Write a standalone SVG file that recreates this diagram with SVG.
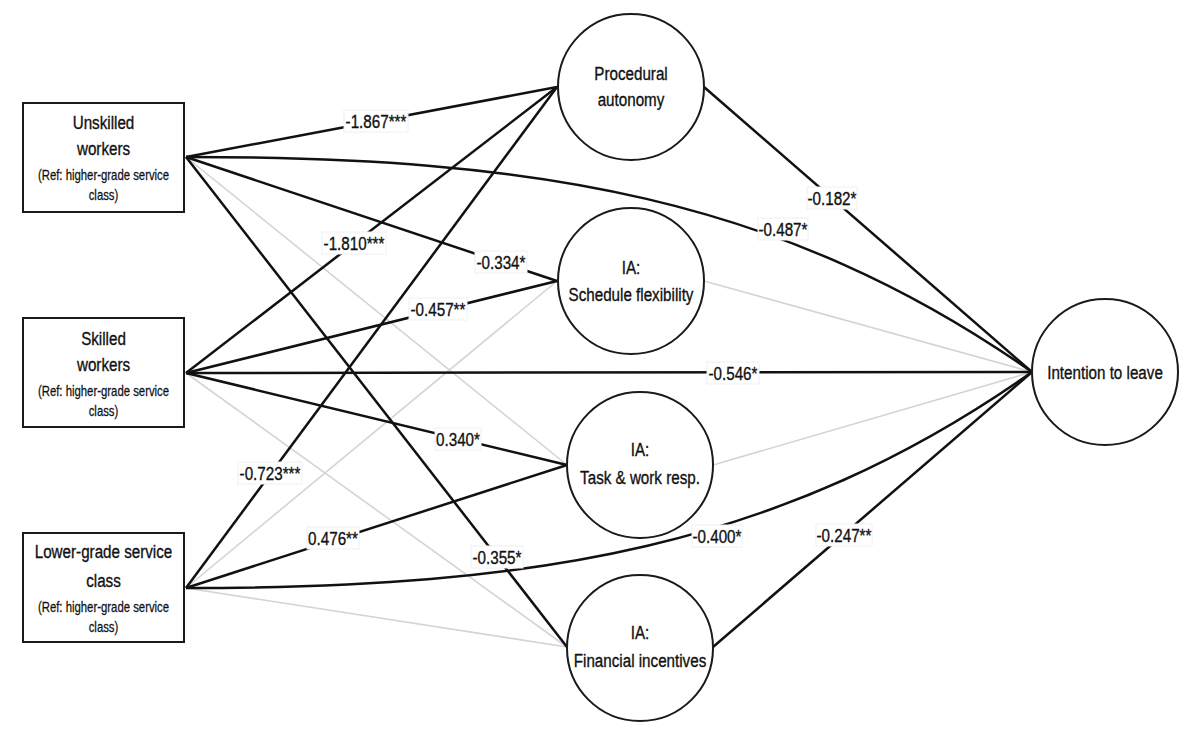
<svg xmlns="http://www.w3.org/2000/svg" width="1200" height="738" viewBox="0 0 1200 738">
<style>
.bg{fill:#fff}
.box{fill:#fff;stroke:#1a1a1a;stroke-width:2}
.circ{fill:#fff;stroke:#1a1a1a;stroke-width:2}
.t{font-family:"Liberation Sans",Arial,sans-serif;font-size:19px;fill:#111;stroke:#111;stroke-width:0.35;text-anchor:middle}
.s{font-family:"Liberation Sans",Arial,sans-serif;font-size:14.2px;fill:#111;stroke:#111;stroke-width:0.25;text-anchor:middle}
.blk{fill:none;stroke:#111;stroke-width:2.5}
.gry{fill:none;stroke:#d4d4d4;stroke-width:1.6}
.lb{fill:#fff;stroke:#f0f0f0;stroke-width:1}
.lt{font-family:"Liberation Sans",Arial,sans-serif;font-size:19px;fill:#111;stroke:#111;stroke-width:0.35;text-anchor:middle}
</style>
<rect class="bg" x="0" y="0" width="1200" height="738"/>
<g id="connectors">
  <line class="gry" x1="186" y1="157" x2="567" y2="465"/>
  <line class="gry" x1="186" y1="373" x2="567" y2="647"/>
  <line class="gry" x1="186" y1="588" x2="557" y2="281"/>
  <line class="gry" x1="186" y1="588" x2="567" y2="647"/>
  <line class="gry" x1="704" y1="281" x2="1032" y2="372"/>
  <line class="gry" x1="713" y1="465" x2="1032" y2="372"/>
  <line class="blk" x1="186" y1="157" x2="557" y2="87"/>
  <line class="blk" x1="186" y1="157" x2="557" y2="281"/>
  <line class="blk" x1="186" y1="157" x2="567" y2="647"/>
  <path class="blk" d="M186,157 C536,157 782,197 1032,372"/>
  <line class="blk" x1="186" y1="373" x2="557" y2="87"/>
  <line class="blk" x1="186" y1="373" x2="557" y2="281"/>
  <line class="blk" x1="186" y1="373" x2="1032" y2="372"/>
  <line class="blk" x1="186" y1="373" x2="567" y2="465"/>
  <line class="blk" x1="186" y1="588" x2="557" y2="87"/>
  <line class="blk" x1="186" y1="588" x2="567" y2="465"/>
  <path class="blk" d="M186,588 C536,588 782,548 1032,372"/>
  <line class="blk" x1="704" y1="87" x2="1032" y2="372"/>
  <line class="blk" x1="713" y1="647" x2="1032" y2="372"/>
  <g id="labels">
    <rect class="lb" x="344" y="110" width="64" height="22"/><text class="lt" transform="matrix(0.8 0 0 1 376 127.5)">-1.867***</text>
    <rect class="lb" x="322" y="232" width="64" height="22"/><text class="lt" transform="matrix(0.8 0 0 1 354 249.5)">-1.810***</text>
    <rect class="lb" x="475" y="251" width="52" height="22"/><text class="lt" transform="matrix(0.8 0 0 1 501 268.5)">-0.334*</text>
    <rect class="lb" x="409" y="298" width="58" height="22"/><text class="lt" transform="matrix(0.8 0 0 1 438 315.5)">-0.457**</text>
    <rect class="lb" x="435" y="428" width="46" height="22"/><text class="lt" transform="matrix(0.8 0 0 1 458 445.5)">0.340*</text>
    <rect class="lb" x="238" y="462" width="64" height="22"/><text class="lt" transform="matrix(0.8 0 0 1 270 479.5)">-0.723***</text>
    <rect class="lb" x="307" y="527" width="52" height="22"/><text class="lt" transform="matrix(0.8 0 0 1 333 544.5)">0.476**</text>
    <rect class="lb" x="471" y="546" width="52" height="22"/><text class="lt" transform="matrix(0.8 0 0 1 497 563.5)">-0.355*</text>
    <rect class="lb" x="807" y="187" width="50" height="22"/><text class="lt" transform="matrix(0.8 0 0 1 832 204.5)">-0.182*</text>
    <rect class="lb" x="758" y="218" width="50" height="22"/><text class="lt" transform="matrix(0.8 0 0 1 783 235.5)">-0.487*</text>
    <rect class="lb" x="707" y="362" width="52" height="22"/><text class="lt" transform="matrix(0.8 0 0 1 733 379.5)">-0.546*</text>
    <rect class="lb" x="692" y="525" width="50" height="22"/><text class="lt" transform="matrix(0.8 0 0 1 717 542.5)">-0.400*</text>
    <rect class="lb" x="816" y="524" width="56" height="22"/><text class="lt" transform="matrix(0.8 0 0 1 844 541.5)">-0.247**</text>
  </g>
</g>
<g id="unskilled">
  <rect class="box" x="23" y="103" width="161" height="109"/>
  <text class="t" transform="matrix(0.8 0 0 1 103.5 129)">Unskilled</text>
  <text class="t" transform="matrix(0.8 0 0 1 103.5 155)">workers</text>
  <text class="s" transform="matrix(0.8 0 0 1 103.5 180)">(Ref: higher-grade service</text>
  <text class="s" transform="matrix(0.8 0 0 1 103.5 200)">class)</text>
</g>
<g id="skilled">
  <rect class="box" x="23" y="318" width="161" height="109"/>
  <text class="t" transform="matrix(0.8 0 0 1 103.5 345)">Skilled</text>
  <text class="t" transform="matrix(0.8 0 0 1 103.5 371)">workers</text>
  <text class="s" transform="matrix(0.8 0 0 1 103.5 396)">(Ref: higher-grade service</text>
  <text class="s" transform="matrix(0.8 0 0 1 103.5 416)">class)</text>
</g>
<g id="lowergrade">
  <rect class="box" x="23" y="533" width="161" height="109"/>
  <text class="t" transform="matrix(0.8 0 0 1 103.5 558)">Lower-grade service</text>
  <text class="t" transform="matrix(0.8 0 0 1 103.5 587)">class</text>
  <text class="s" transform="matrix(0.8 0 0 1 103.5 612)">(Ref: higher-grade service</text>
  <text class="s" transform="matrix(0.8 0 0 1 103.5 632)">class)</text>
</g>
<g id="procedural">
  <circle class="circ" cx="631" cy="87" r="73"/>
  <text class="t" transform="matrix(0.8 0 0 1 631 80)">Procedural</text>
  <text class="t" transform="matrix(0.8 0 0 1 631 106)">autonomy</text>
</g>
<g id="schedule">
  <circle class="circ" cx="631" cy="281" r="73"/>
  <text class="t" transform="matrix(0.8 0 0 1 631 274)">IA:</text>
  <text class="t" transform="matrix(0.8 0 0 1 631 301)">Schedule flexibility</text>
</g>
<g id="task">
  <circle class="circ" cx="640" cy="465" r="73"/>
  <text class="t" transform="matrix(0.8 0 0 1 640 456)">IA:</text>
  <text class="t" transform="matrix(0.8 0 0 1 640 484)">Task &amp; work resp.</text>
</g>
<g id="financial">
  <circle class="circ" cx="640" cy="648" r="73"/>
  <text class="t" transform="matrix(0.8 0 0 1 640 639)">IA:</text>
  <text class="t" transform="matrix(0.8 0 0 1 640 667)">Financial incentives</text>
</g>
<g id="intention">
  <circle class="circ" cx="1105" cy="372" r="73"/>
  <text class="t" transform="matrix(0.8 0 0 1 1105 379)">Intention to leave</text>
</g>
</svg>
